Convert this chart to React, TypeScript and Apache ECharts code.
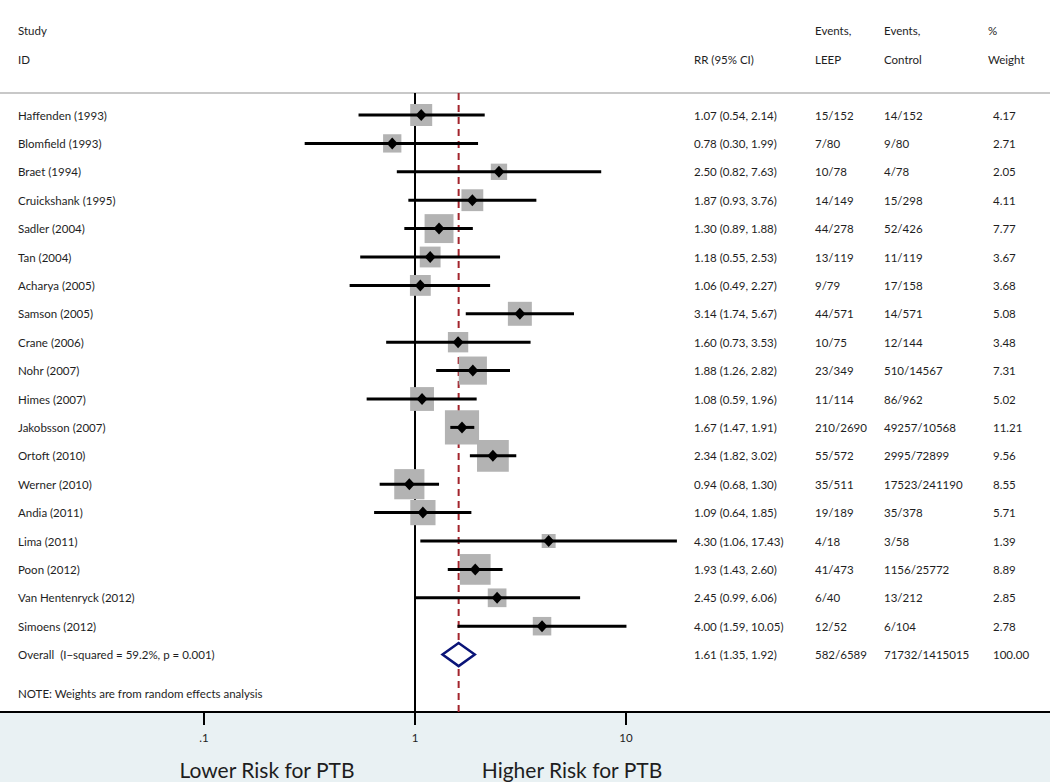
import React, { useEffect, useRef } from "react";
import * as echarts from "echarts";

const studies = [
  "Haffenden (1993)", "Blomfield (1993)", "Braet (1994)", "Cruickshank (1995)", "Sadler (2004)",
  "Tan (2004)", "Acharya (2005)", "Samson (2005)", "Crane (2006)", "Nohr (2007)", "Himes (2007)",
  "Jakobsson (2007)", "Ortoft (2010)", "Werner (2010)", "Andia (2011)", "Lima (2011)", "Poon (2012)",
  "Van Hentenryck (2012)", "Simoens (2012)",
];
const rr = [1.07, 0.78, 2.5, 1.87, 1.3, 1.18, 1.06, 3.14, 1.6, 1.88, 1.08, 1.67, 2.34, 0.94, 1.09, 4.3, 1.93, 2.45, 4.0];
const lo = [0.54, 0.3, 0.82, 0.93, 0.89, 0.55, 0.49, 1.74, 0.73, 1.26, 0.59, 1.47, 1.82, 0.68, 0.64, 1.06, 1.43, 0.99, 1.59];
const hi = [2.14, 1.99, 7.63, 3.76, 1.88, 2.53, 2.27, 5.67, 3.53, 2.82, 1.96, 1.91, 3.02, 1.3, 1.85, 17.43, 2.6, 6.06, 10.05];
const rrText = [
  "1.07 (0.54, 2.14)", "0.78 (0.30, 1.99)", "2.50 (0.82, 7.63)", "1.87 (0.93, 3.76)", "1.30 (0.89, 1.88)",
  "1.18 (0.55, 2.53)", "1.06 (0.49, 2.27)", "3.14 (1.74, 5.67)", "1.60 (0.73, 3.53)", "1.88 (1.26, 2.82)",
  "1.08 (0.59, 1.96)", "1.67 (1.47, 1.91)", "2.34 (1.82, 3.02)", "0.94 (0.68, 1.30)", "1.09 (0.64, 1.85)",
  "4.30 (1.06, 17.43)", "1.93 (1.43, 2.60)", "2.45 (0.99, 6.06)", "4.00 (1.59, 10.05)",
];
const leep = ["15/152", "7/80", "10/78", "14/149", "44/278", "13/119", "9/79", "44/571", "10/75", "23/349", "11/114", "210/2690", "55/572", "35/511", "19/189", "4/18", "41/473", "6/40", "12/52"];
const control = ["14/152", "9/80", "4/78", "15/298", "52/426", "11/119", "17/158", "14/571", "12/144", "510/14567", "86/962", "49257/10568", "2995/72899", "17523/241190", "35/378", "3/58", "1156/25772", "13/212", "6/104"];
const weight = [4.17, 2.71, 2.05, 4.11, 7.77, 3.67, 3.68, 5.08, 3.48, 7.31, 5.02, 11.21, 9.56, 8.55, 5.71, 1.39, 8.89, 2.85, 2.78];
const weightText = ["4.17", "2.71", "2.05", "4.11", "7.77", "3.67", "3.68", "5.08", "3.48", "7.31", "5.02", "11.21", "9.56", "8.55", "5.71", "1.39", "8.89", "2.85", "2.78"];

const overallLabel = "Overall  (I\u2212squared = 59.2%, p = 0.001)";
const overallRR = 1.61;
const overallLo = 1.35;
const overallHi = 1.92;
const overallText = "1.61 (1.35, 1.92)";
const overallLeep = "582/6589";
const overallControl = "71732/1415015";
const overallWeight = "100.00";

const tickValues = [0.1, 1, 10];
const tickLabels = [".1", "1", "10"];

const FONT = "Lato, 'Open Sans', sans-serif";
const TXT = "#1e1e1e";

export default function App() {
  const ref = useRef<HTMLDivElement>(null);
  useEffect(() => {
    if (!ref.current) return;
    const chart = echarts.init(ref.current, null, { renderer: "svg" });
    const lg = (v: number) => Math.log10(v);
    const rowStep = 28.4;
    const row0 = 115;
    const yMin = -row0 / rowStep;
    const yMax = (712 - row0) / rowStep;
    const xMin = -415 / 211;
    const xMax = (1050 - 415) / 211;
    const topRow = (93 - row0) / rowStep;

    const cols = { name: 18, rr: 694, leep: 815, control: 884, weight: 993 };

    const tableRows = studies.map((s, i) => ({
      value: [0, i],
      cells: [s, rrText[i], leep[i], control[i], weightText[i]],
    }));
    tableRows.push({
      value: [0, studies.length],
      cells: [overallLabel, overallText, overallLeep, overallControl, overallWeight],
    });

    const txt = (x: number, y: number, text: string, size = 11.5) => ({
      type: "text",
      x,
      y,
      style: { text, fill: TXT, fontSize: size, fontFamily: FONT, verticalAlign: "middle", align: "left" },
    });

    const option: any = {
      animation: false,
      backgroundColor: "#ffffff",
      grid: { left: 0, right: 0, top: 0, bottom: 70, containLabel: false },
      xAxis: {
        type: "value",
        min: xMin,
        max: xMax,
        splitLine: { show: false },
        axisLine: { show: true, onZero: false, lineStyle: { color: "#000", width: 2 } },
        axisTick: {
          show: true,
          length: 13,
          lineStyle: { color: "#000", width: 2 },
          customValues: tickValues.map(lg),
        },
        axisLabel: {
          show: true,
          margin: 19,
          color: TXT,
          fontSize: 11.5,
          fontFamily: FONT,
          customValues: tickValues.map(lg),
          formatter: (v: number) => {
            const idx = tickValues.findIndex((t) => Math.abs(lg(t) - v) < 1e-6);
            return idx >= 0 ? tickLabels[idx] : "";
          },
        },
      },
      yAxis: {
        type: "value",
        min: yMin,
        max: yMax,
        inverse: true,
        show: false,
      },
      graphic: [
        { type: "rect", z: -100, shape: { x: 0, y: 712, width: 1050, height: 70 }, style: { fill: "#e9f1f3" } },
        { type: "line", z: 1, shape: { x1: 0, y1: 93, x2: 1050, y2: 93 }, style: { stroke: "#c8c8c8", lineWidth: 2 } },
        txt(18, 30, "Study"),
        txt(18, 59, "ID"),
        txt(cols.rr, 59, "RR (95% CI)"),
        txt(cols.leep, 30, "Events,"),
        txt(cols.leep, 59, "LEEP"),
        txt(cols.control, 30, "Events,"),
        txt(cols.control, 59, "Control"),
        txt(988, 30, "%"),
        txt(988, 59, "Weight"),
        txt(18, 693, "NOTE: Weights are from random effects analysis"),
        {
          type: "text",
          x: 267,
          y: 769,
          style: { text: "Lower Risk for PTB", fill: TXT, fontSize: 21, fontFamily: FONT, align: "center", verticalAlign: "middle" },
        },
        {
          type: "text",
          x: 572,
          y: 769,
          style: { text: "Higher Risk for PTB", fill: TXT, fontSize: 21, fontFamily: FONT, align: "center", verticalAlign: "middle" },
        },
      ],
      series: [
        {
          type: "custom",
          name: "refs",
          z: 3,
          data: [[0, 0]],
          renderItem: (params: any, api: any) => {
            const a = api.coord([0, topRow]);
            const b = api.coord([0, yMax]);
            const c = api.coord([lg(overallRR), topRow]);
            const d = api.coord([lg(overallRR), yMax]);
            return {
              type: "group",
              children: [
                { type: "line", shape: { x1: a[0], y1: a[1], x2: b[0], y2: b[1] }, style: { stroke: "#000", lineWidth: 2 } },
                {
                  type: "line",
                  z2: 20,
                  shape: { x1: c[0], y1: c[1], x2: d[0], y2: d[1] },
                  style: { stroke: "#a3242c", lineWidth: 2, lineDash: [7, 5] },
                },
              ],
            };
          },
        },
        {
          type: "custom",
          name: "studies",
          z: 4,
          data: studies.map((s, i) => [lg(rr[i]), i, lg(lo[i]), lg(hi[i]), weight[i]]),
          renderItem: (params: any, api: any) => {
            const p = api.coord([api.value(0), api.value(1)]);
            const pl = api.coord([api.value(2), api.value(1)]);
            const ph = api.coord([api.value(3), api.value(1)]);
            const side = 3 + 9.3 * Math.sqrt(api.value(4));
            const dw = 5.5;
            const dh = 6;
            return {
              type: "group",
              children: [
                {
                  type: "rect",
                  shape: { x: p[0] - side / 2, y: p[1] - side / 2, width: side, height: side },
                  style: { fill: "#b3b3b3" },
                },
                {
                  type: "line",
                  shape: { x1: pl[0], y1: pl[1], x2: ph[0], y2: ph[1] },
                  style: { stroke: "#000", lineWidth: 3 },
                },
                {
                  type: "polygon",
                  shape: {
                    points: [
                      [p[0] - dw, p[1]],
                      [p[0], p[1] - dh],
                      [p[0] + dw, p[1]],
                      [p[0], p[1] + dh],
                    ],
                  },
                  style: { fill: "#000" },
                },
              ],
            };
          },
        },
        {
          type: "custom",
          name: "overall",
          z: 5,
          data: [[lg(overallRR), studies.length, lg(overallLo), lg(overallHi)]],
          renderItem: (params: any, api: any) => {
            const p = api.coord([api.value(0), api.value(1)]);
            const pl = api.coord([api.value(2), api.value(1)]);
            const ph = api.coord([api.value(3), api.value(1)]);
            const h = 11.5;
            return {
              type: "polygon",
              shape: {
                points: [
                  [pl[0], p[1]],
                  [p[0], p[1] - h],
                  [ph[0], p[1]],
                  [p[0], p[1] + h],
                ],
              },
              style: { fill: "#ffffff", stroke: "#0a1478", lineWidth: 2.5 },
            };
          },
        },
        {
          type: "custom",
          name: "table",
          z: 6,
          data: tableRows,
          renderItem: (params: any, api: any) => {
            const y = api.coord([0, api.value(1)])[1];
            const cells = tableRows[params.dataIndex].cells;
            const xs = [cols.name, cols.rr, cols.leep, cols.control, cols.weight];
            return {
              type: "group",
              children: cells.map((c: string, k: number) => ({
                type: "text",
                x: xs[k],
                y,
                style: { text: c, fill: TXT, fontSize: 11.5, fontFamily: FONT, verticalAlign: "middle", align: "left" },
              })),
            };
          },
        },
      ],
    };
    chart.setOption(option);
    return () => chart.dispose();
  }, []);
  return <div ref={ref} style={{ position: "fixed", left: 0, top: 0, width: 1050, height: 782 }} />;
}
